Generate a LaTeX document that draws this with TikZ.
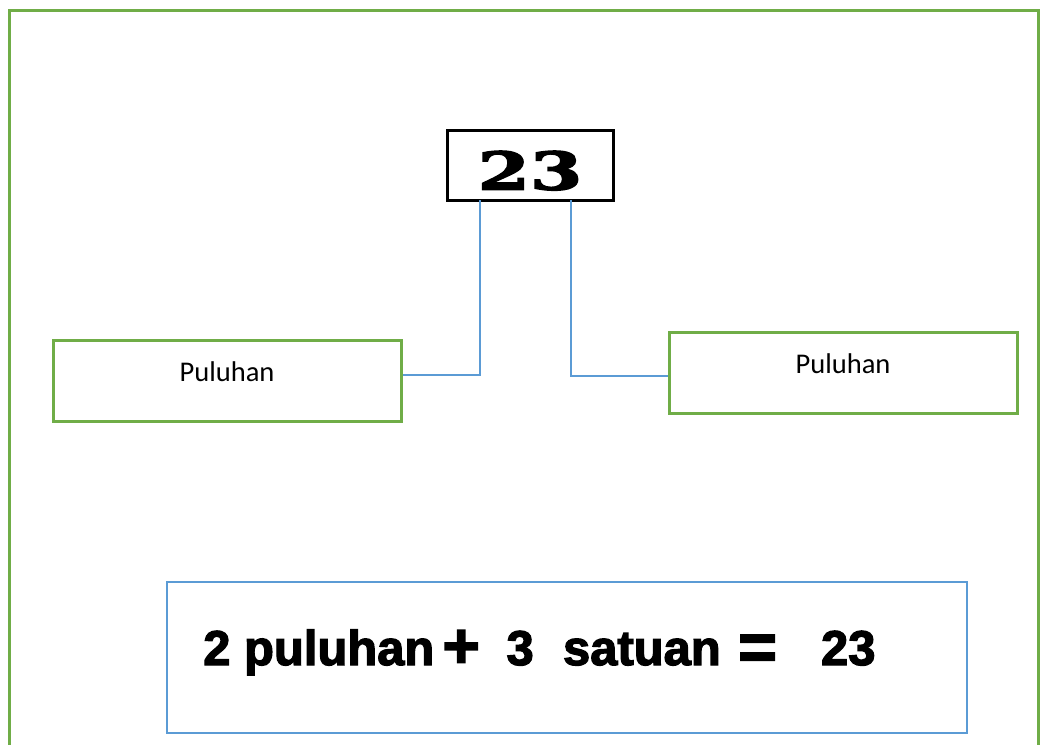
\documentclass[tikz,border=0pt]{standalone}
\usepackage{fontspec}
\setmainfont{Carlito}
\newfontfamily\numfont{DejaVu Serif}[FakeStretch=1.45, BoldFeatures={FakeBold=3}]
\newfontfamily\eqfont{Liberation Sans}[BoldFeatures={FakeBold=2.6}]
\usetikzlibrary{positioning}
\definecolor{framegreen}{RGB}{112,173,71}
\definecolor{linkblue}{RGB}{91,155,213}

\begin{document}
\begin{tikzpicture}[x=0.75pt,y=-0.75pt]
                \tikzstyle{field} = [draw=framegreen, line width=2.25pt, minimum width=261pt, minimum height=60.75pt, inner sep=0pt, font=\fontsize{21.4}{24}\selectfont, text depth=14pt];
                \tikzstyle{link} = [draw=linkblue, line width=1.5pt];

                \useasboundingbox (0,0) rectangle (1040,744);
                \clip (0,0) rectangle (1040,744);
                \draw[framegreen, line width=2.25pt] (9,10) rectangle (1038,790);

                \node[draw, line width=2.25pt, minimum width=124.5pt, minimum height=52.5pt, inner sep=0pt, text height=37.4pt, font=\numfont\bfseries\fontsize{39}{40}\selectfont](num) at (530,165) {23};
                \node[field](tens) at (227,380.5) {Puluhan};
                \node[field](ones) at (843,372.5) {Puluhan};

                \coordinate (tensfoot) at (480,200);
                \coordinate (onesfoot) at (571,200);

                \draw[link] (tensfoot) |- ([yshift=4.5pt]tens.east);
                \draw[link] (onesfoot) |- ([yshift=-2.25pt]ones.west);

                \node[draw=linkblue, line width=1.5pt, minimum width=600pt, minimum height=113.25pt](sum) at (567,657.5) {};
                \node[anchor=base west, inner sep=0pt, font=\eqfont\bfseries\fontsize{36.7}{40}\selectfont](eq) at (203,665)
                    {2 puluhan\,\raisebox{-2pt}{\fontsize{48}{48}\selectfont+}\hspace{20pt}3\hspace{22pt}satuan\hspace{13pt}\raisebox{-3.5pt}{\fontsize{50}{50}\selectfont=}\hspace{33pt}23};
            \end{tikzpicture}
\end{document}
